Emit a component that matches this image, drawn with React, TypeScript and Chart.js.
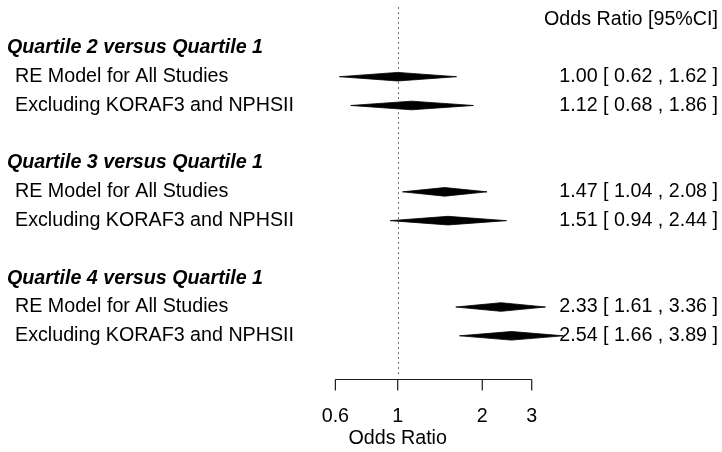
import { useEffect, useRef } from 'react';
import { Chart, registerables } from 'chart.js';

Chart.register(...registerables);

// Subgroup headings and the two model rows under each of them
const groupTitles = [
  'Quartile 2 versus Quartile 1',
  'Quartile 3 versus Quartile 1',
  'Quartile 4 versus Quartile 1',
];
const modelLabels = [
  'RE Model for All Studies',
  'Excluding KORAF3 and NPHSII',
  'RE Model for All Studies',
  'Excluding KORAF3 and NPHSII',
  'RE Model for All Studies',
  'Excluding KORAF3 and NPHSII',
];

// Pooled odds ratios with their 95% confidence limits
const estimates = [1.0, 1.12, 1.47, 1.51, 2.33, 2.54];
const lowerCI = [0.62, 0.68, 1.04, 0.94, 1.61, 1.66];
const upperCI = [1.62, 1.86, 2.08, 2.44, 3.36, 3.89];

// Row slots (counted from the bottom) for models and headings
const modelRows = [10, 9, 6, 5, 2, 1];
const headerRows = [11, 7, 3];
const columnHeaderRow = 12;

// Bottom axis
const axisTicks = [0.6, 1, 2, 3];
const axisTitle = 'Odds Ratio';
const columnTitle = 'Odds Ratio [95%CI]';

const FONT = '"Liberation Sans", Arial, Helvetica, sans-serif';
const FONT_SIZE = 19.7;
const DIAMOND_HALF = 0.15;

const fmt = (v: number) => v.toFixed(2);

const forestText = {
  id: 'forestText',
  beforeDatasetsDraw(chart: any) {
    const { ctx } = chart;
    const xs = chart.scales.x;
    const ys = chart.scales.y;
    const x1 = Math.round(xs.getPixelForValue(1)) + 0.5;
    ctx.save();
    ctx.strokeStyle = '#6e6e6e';
    ctx.lineWidth = 1;
    ctx.setLineDash([2, 3]);
    ctx.beginPath();
    ctx.moveTo(x1, ys.getPixelForValue(12.42));
    ctx.lineTo(x1, ys.getPixelForValue(-0.36));
    ctx.stroke();
    ctx.restore();
  },
  afterDatasetsDraw(chart: any) {
    const { ctx } = chart;
    const xs = chart.scales.x;
    const ys = chart.scales.y;
    const right = chart.chartArea.right - 4;
    ctx.save();
    ctx.fillStyle = '#000';
    ctx.textBaseline = 'middle';

    // column heading
    ctx.font = `${FONT_SIZE}px ${FONT}`;
    ctx.textAlign = 'right';
    ctx.fillText(columnTitle, right, ys.getPixelForValue(columnHeaderRow));

    // group headings
    ctx.font = `italic bold ${FONT_SIZE}px ${FONT}`;
    ctx.textAlign = 'left';
    groupTitles.forEach((t, i) => {
      ctx.fillText(t, 7, ys.getPixelForValue(headerRows[i]));
    });

    // model labels and estimates
    ctx.font = `${FONT_SIZE}px ${FONT}`;
    modelLabels.forEach((t, i) => {
      const y = ys.getPixelForValue(modelRows[i]);
      ctx.textAlign = 'left';
      ctx.fillText(t, 15, y);
      ctx.textAlign = 'right';
      ctx.fillText(
        `${fmt(estimates[i])} [ ${fmt(lowerCI[i])} , ${fmt(upperCI[i])} ]`,
        right,
        y
      );
    });

    // bottom axis
    const axisY = Math.round(ys.getPixelForValue(-0.5)) + 0.5;
    const xa = xs.getPixelForValue(axisTicks[0]);
    const xb = xs.getPixelForValue(axisTicks[axisTicks.length - 1]);
    ctx.strokeStyle = '#1a1a1a';
    ctx.lineWidth = 1.2;
    ctx.beginPath();
    ctx.moveTo(xa, axisY);
    ctx.lineTo(xb, axisY);
    axisTicks.forEach((t) => {
      const px = xs.getPixelForValue(t);
      ctx.moveTo(px, axisY);
      ctx.lineTo(px, axisY + 11);
    });
    ctx.stroke();
    ctx.textAlign = 'center';
    axisTicks.forEach((t) => {
      ctx.fillText(String(t), xs.getPixelForValue(t), axisY + 37);
    });
    ctx.fillText(axisTitle, xs.getPixelForValue(1), axisY + 59);
    ctx.restore();
  },
};

export default function App() {
  const ref = useRef<HTMLCanvasElement>(null);

  useEffect(() => {
    if (!ref.current) return;
    const datasets = estimates.map((est, i) => {
      const r = modelRows[i];
      return {
        label: modelLabels[i],
        data: [
          { x: lowerCI[i], y: r },
          { x: est, y: r + DIAMOND_HALF },
          { x: upperCI[i], y: r },
          { x: est, y: r - DIAMOND_HALF },
          { x: lowerCI[i], y: r },
        ],
        showLine: true,
        fill: 'shape',
        backgroundColor: '#000',
        borderColor: '#000',
        borderWidth: 0.8,
        pointRadius: 0,
        tension: 0,
      };
    });

    const chart = new Chart(ref.current, {
      type: 'scatter',
      data: { datasets: datasets as any },
      options: {
        animation: false,
        responsive: false,
        maintainAspectRatio: false,
        devicePixelRatio: 1,
        layout: { padding: 0 },
        events: [],
        plugins: {
          legend: { display: false },
          tooltip: { enabled: false },
        },
        scales: {
          x: { type: 'logarithmic', min: 0.0384, max: 14.27, display: false },
          y: { type: 'linear', min: -3.036, max: 12.664, display: false },
        },
      },
      plugins: [forestText],
    });
    return () => chart.destroy();
  }, []);

  return (
    <div style={{ position: 'absolute', left: 0, top: 0, width: 722, height: 452, background: '#fff' }}>
      <canvas ref={ref} width={722} height={452} style={{ display: 'block' }} />
    </div>
  );
}
